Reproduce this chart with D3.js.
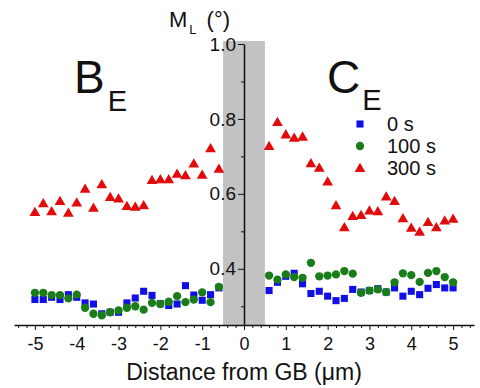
<!DOCTYPE html>
<html>
<head>
<meta charset="utf-8">
<script src="https://cdn.jsdelivr.net/npm/d3@7"></script>
<style>
  body { margin: 0; background: #fff; }
  svg { display: block; font-family: "Liberation Sans", Arial, sans-serif; }
  .axis path, .axis line { stroke: #111; }
  .axis text { fill: #111; }
</style>
</head>
<body>
<svg id="chart" width="480" height="388"></svg>
<script>
// distance positions (um) for each side of the boundary
const xLeft = [-5, -4.8, -4.6, -4.4, -4.2, -4, -3.8, -3.6, -3.4, -3.2, -3, -2.8, -2.6, -2.4, -2.2, -2, -1.8, -1.6, -1.4, -1.2, -1, -0.8, -0.6];
const xRight = [0.6, 0.8, 1, 1.2, 1.4, 1.6, 1.8, 2, 2.2, 2.4, 2.6, 2.8, 3, 3.2, 3.4, 3.6, 3.8, 4, 4.2, 4.4, 4.6, 4.8, 5];

// M_L values
const s0Left = [0.318, 0.318, 0.324, 0.318, 0.331, 0.324, 0.309, 0.306, 0.280, 0.284, 0.284, 0.309, 0.322, 0.340, 0.329, 0.307, 0.302, 0.306, 0.355, 0.330, 0.316, 0.331, 0.349];
const s0Right = [0.342, 0.364, 0.380, 0.388, 0.360, 0.334, 0.340, 0.327, 0.315, 0.321, 0.345, 0.338, 0.342, 0.347, 0.338, 0.349, 0.327, 0.340, 0.331, 0.348, 0.358, 0.349, 0.349];
const s100Left = [0.336, 0.336, 0.330, 0.330, 0.321, 0.331, 0.296, 0.280, 0.276, 0.284, 0.289, 0.296, 0.300, 0.291, 0.309, 0.306, 0.312, 0.327, 0.311, 0.318, 0.337, 0.311, 0.352];
const s100Right = [0.382, 0.371, 0.385, 0.378, 0.376, 0.416, 0.380, 0.382, 0.385, 0.394, 0.387, 0.336, 0.342, 0.345, 0.338, 0.364, 0.388, 0.383, 0.365, 0.389, 0.394, 0.378, 0.364];
const s300Left = [0.552, 0.575, 0.554, 0.581, 0.550, 0.577, 0.614, 0.563, 0.626, 0.592, 0.588, 0.568, 0.566, 0.570, 0.637, 0.639, 0.639, 0.654, 0.650, 0.681, 0.651, 0.722, 0.667];
const s300Right = [0.728, 0.792, 0.759, 0.750, 0.753, 0.682, 0.670, 0.633, 0.570, 0.511, 0.541, 0.544, 0.556, 0.554, 0.593, 0.581, 0.535, 0.510, 0.499, 0.525, 0.511, 0.529, 0.534];

const seriesNames = ["0 s", "100 s", "300 s"];
const xTicks = [-5, -4, -3, -2, -1, 0, 1, 2, 3, 4, 5];
const yTicks = [0.4, 0.6, 0.8, 1.0];
const yMinor = [0.3, 0.5, 0.7, 0.9];
const gbBand = [-0.5, 0.5];

const svg = d3.select("#chart");

const x = d3.scaleLinear().domain([-5.5, 5.5]).range([14, 474]);
const y = d3.scaleLinear().domain([0.25, 1.0]).range([325, 44]);

const colors = ["#1010e6", "#1a7d1a", "#e20a0a"];
const symbols = [d3.symbolSquare, d3.symbolCircle, d3.symbolTriangle];
const sizes = [50, 54, 50];

// grey band marking the grain boundary
svg.append("rect")
  .attr("x", x(gbBand[0]))
  .attr("y", y(1.008))
  .attr("width", x(gbBand[1]) - x(gbBand[0]))
  .attr("height", y(0.25) - y(1.008))
  .attr("fill", "#c2c2c2");

// minor x ticks every 0.2
const xMinor = d3.range(-27, 28).map(i => i / 5).filter(v => Math.abs(v - Math.round(v)) > 1e-6);
svg.append("g")
  .attr("class", "axis")
  .attr("transform", "translate(0," + y(0.25) + ")")
  .call(d3.axisBottom(x).tickValues(xMinor).tickSize(3).tickSizeOuter(0).tickFormat(""))
  .call(g => g.select(".domain").remove());

svg.append("g")
  .attr("class", "axis")
  .attr("transform", "translate(0," + y(0.25) + ")")
  .call(d3.axisBottom(x).tickValues(xTicks).tickSize(5).tickSizeOuter(0).tickPadding(7).tickFormat(d3.format("d")))
  .call(g => g.select(".domain").attr("stroke-width", 1.5))
  .call(g => g.selectAll("text").attr("font-size", 18).attr("font-family", "Liberation Sans, Arial, sans-serif").text(d => d < 0 ? "-" + Math.abs(d) : d));

// y axis sits at x = 0
svg.append("g")
  .attr("class", "axis")
  .attr("transform", "translate(" + x(0) + ",0)")
  .call(d3.axisLeft(y).tickValues(yMinor).tickSize(3).tickSizeOuter(0).tickFormat(""))
  .call(g => g.select(".domain").remove());

svg.append("g")
  .attr("class", "axis")
  .attr("transform", "translate(" + x(0) + ",0)")
  .call(d3.axisLeft(y).tickValues(yTicks).tickSize(6).tickSizeOuter(0).tickPadding(2).tickFormat(d3.format(".1f")))
  .call(g => g.select(".domain").attr("stroke-width", 1.5))
  .call(g => g.selectAll("text").attr("font-size", 19).attr("font-family", "Liberation Sans, Arial, sans-serif"));

// data points
const series = [
  xLeft.map((d, i) => [d, s0Left[i]]).concat(xRight.map((d, i) => [d, s0Right[i]])),
  xLeft.map((d, i) => [d, s100Left[i]]).concat(xRight.map((d, i) => [d, s100Right[i]])),
  xLeft.map((d, i) => [d, s300Left[i]]).concat(xRight.map((d, i) => [d, s300Right[i]]))
];

series.forEach((pts, k) => {
  svg.append("g")
    .selectAll("path")
    .data(pts)
    .join("path")
    .attr("d", d3.symbol().type(symbols[k]).size(sizes[k]))
    .attr("transform", d => "translate(" + x(d[0]) + "," + (y(d[1]) + (k === 2 ? 1 : 0)) + ")")
    .attr("fill", colors[k]);
});

// legend
const legend = svg.append("g").attr("transform", "translate(360,124)");
seriesNames.forEach((name, k) => {
  legend.append("path")
    .attr("d", d3.symbol().type(symbols[k]).size(sizes[k]))
    .attr("transform", "translate(0," + (k * 22 + (k === 2 ? 1 : 0)) + ")")
    .attr("fill", colors[k]);
  legend.append("text")
    .attr("x", 27)
    .attr("y", k * 22 + 7)
    .attr("font-size", 20)
    .attr("fill", "#111")
    .text(name);
});

// region labels
const bLabel = svg.append("text").attr("x", 74).attr("y", 93).attr("fill", "#111");
bLabel.append("tspan").attr("font-size", 46).text("B");
bLabel.append("tspan").attr("font-size", 29).attr("dx", 3).attr("dy", 18).text("E");

const cLabel = svg.append("text").attr("x", 327).attr("y", 93).attr("fill", "#111");
cLabel.append("tspan").attr("font-size", 46).text("C");
cLabel.append("tspan").attr("font-size", 29).attr("dx", 2).attr("dy", 17).text("E");

// axis titles
const yTitle = svg.append("text").attr("x", 169).attr("y", 27).attr("fill", "#111");
yTitle.append("tspan").attr("font-size", 22).text("M");
yTitle.append("tspan").attr("font-size", 13).attr("dx", 2).attr("dy", 7).text("L");
yTitle.append("tspan").attr("font-size", 22).attr("dx", 10).attr("dy", -7).text("(°)");

svg.append("text")
  .attr("x", x(0))
  .attr("y", 380)
  .attr("text-anchor", "middle")
  .attr("font-size", 23)
  .attr("fill", "#111")
  .text("Distance from GB (μm)");
</script>
</body>
</html>
